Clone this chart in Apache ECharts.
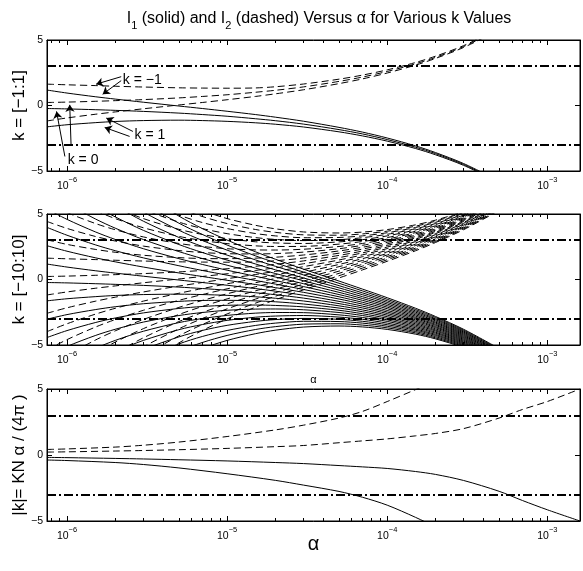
<!DOCTYPE html>
<html>
<head>
<meta charset="utf-8">
<script src="https://cdn.jsdelivr.net/npm/echarts@6/dist/echarts.min.js"></script>
<style>
  html, body { margin: 0; padding: 0; background: #fff; }
  #chart { width: 583px; height: 571px; }
</style>
</head>
<body>
<div id="chart"></div>
<script>
// alpha samples used for the fixed-k curves (panels 1 and 2)
const alphaGrid = [7.5e-7, 1e-6, 1.5e-6, 2e-6, 3e-6, 5e-6, 7e-6, 1e-5, 1.5e-5, 2e-5, 3e-5, 5e-5, 7e-5, 1e-4, 1.5e-4, 2e-4, 3e-4, 5e-4];
const kValues = [-10, -9, -8, -7, -6, -5, -4, -3, -2, -1, 0, 1, 2, 3, 4, 5, 6, 7, 8, 9, 10];

// I1 (solid), one row per k
const i1Rows = [
  [13.78, 11.86, 9.58, 8.20, 6.55, 4.84, 3.89, 3.01, 2.12, 1.55, 0.79, -0.12, -0.73, -1.39, -2.19, -2.82, -3.80, -5.27],
  [12.38, 10.65, 8.59, 7.35, 5.85, 4.30, 3.44, 2.63, 1.81, 1.28, 0.57, -0.29, -0.87, -1.51, -2.29, -2.90, -3.87, -5.32],
  [10.98, 9.44, 7.60, 6.49, 5.15, 3.76, 2.98, 2.24, 1.50, 1.01, 0.35, -0.47, -1.02, -1.63, -2.39, -2.99, -3.94, -5.38],
  [9.58, 8.22, 6.61, 5.63, 4.45, 3.21, 2.52, 1.86, 1.19, 0.74, 0.12, -0.64, -1.16, -1.75, -2.49, -3.07, -4.01, -5.43],
  [8.18, 7.01, 5.62, 4.78, 3.75, 2.67, 2.06, 1.48, 0.87, 0.46, -0.10, -0.81, -1.31, -1.87, -2.59, -3.16, -4.08, -5.48],
  [6.78, 5.80, 4.63, 3.92, 3.05, 2.13, 1.60, 1.09, 0.56, 0.19, -0.32, -0.98, -1.45, -1.99, -2.69, -3.25, -4.15, -5.54],
  [5.38, 4.59, 3.64, 3.06, 2.35, 1.59, 1.15, 0.71, 0.25, -0.08, -0.54, -1.15, -1.59, -2.11, -2.79, -3.33, -4.22, -5.59],
  [3.98, 3.38, 2.65, 2.20, 1.65, 1.05, 0.69, 0.33, -0.07, -0.35, -0.76, -1.32, -1.74, -2.23, -2.89, -3.42, -4.29, -5.65],
  [2.58, 2.16, 1.66, 1.35, 0.95, 0.50, 0.23, -0.06, -0.38, -0.62, -0.98, -1.49, -1.88, -2.36, -2.98, -3.50, -4.36, -5.70],
  [1.18, 0.95, 0.67, 0.49, 0.25, -0.04, -0.23, -0.44, -0.69, -0.89, -1.20, -1.67, -2.03, -2.48, -3.08, -3.59, -4.43, -5.76],
  [-0.23, -0.26, -0.32, -0.37, -0.45, -0.58, -0.69, -0.82, -1.01, -1.16, -1.42, -1.84, -2.17, -2.60, -3.18, -3.67, -4.50, -5.81],
  [-1.63, -1.47, -1.31, -1.22, -1.15, -1.12, -1.15, -1.21, -1.32, -1.43, -1.64, -2.01, -2.32, -2.72, -3.28, -3.76, -4.57, -5.86],
  [-3.03, -2.68, -2.30, -2.08, -1.85, -1.67, -1.60, -1.59, -1.63, -1.70, -1.87, -2.18, -2.46, -2.84, -3.38, -3.85, -4.64, -5.92],
  [-4.43, -3.90, -3.29, -2.94, -2.55, -2.21, -2.06, -1.97, -1.95, -1.98, -2.09, -2.35, -2.61, -2.96, -3.48, -3.93, -4.71, -5.97],
  [-5.83, -5.11, -4.28, -3.80, -3.25, -2.75, -2.52, -2.35, -2.26, -2.25, -2.31, -2.52, -2.75, -3.08, -3.58, -4.02, -4.78, -6.03],
  [-7.23, -6.32, -5.27, -4.65, -3.95, -3.29, -2.98, -2.74, -2.57, -2.52, -2.53, -2.70, -2.90, -3.20, -3.68, -4.10, -4.85, -6.08],
  [-8.63, -7.53, -6.26, -5.51, -4.65, -3.83, -3.44, -3.12, -2.88, -2.79, -2.75, -2.87, -3.04, -3.33, -3.78, -4.19, -4.92, -6.13],
  [-10.03, -8.74, -7.25, -6.37, -5.35, -4.38, -3.89, -3.50, -3.20, -3.06, -2.97, -3.04, -3.19, -3.45, -3.87, -4.27, -4.99, -6.19],
  [-11.43, -9.96, -8.24, -7.22, -6.05, -4.92, -4.35, -3.89, -3.51, -3.33, -3.19, -3.21, -3.33, -3.57, -3.97, -4.36, -5.06, -6.24],
  [-12.83, -11.17, -9.23, -8.08, -6.75, -5.46, -4.81, -4.27, -3.82, -3.60, -3.41, -3.38, -3.48, -3.69, -4.07, -4.45, -5.13, -6.30],
  [-14.23, -12.38, -10.22, -8.94, -7.45, -6.00, -5.27, -4.65, -4.14, -3.87, -3.63, -3.55, -3.62, -3.81, -4.17, -4.53, -5.20, -6.35]
];

// I2 (dashed), one row per k
const i2Rows = [
  [14.23, 12.38, 10.22, 8.94, 7.45, 6.00, 5.27, 4.65, 4.14, 3.87, 3.63, 3.55, 3.62, 3.81, 4.17, 4.53, 5.20, 6.35],
  [12.83, 11.17, 9.23, 8.08, 6.75, 5.46, 4.81, 4.27, 3.82, 3.60, 3.41, 3.38, 3.48, 3.69, 4.07, 4.45, 5.13, 6.30],
  [11.43, 9.96, 8.24, 7.22, 6.05, 4.92, 4.35, 3.89, 3.51, 3.33, 3.19, 3.21, 3.33, 3.57, 3.97, 4.36, 5.06, 6.24],
  [10.03, 8.74, 7.25, 6.37, 5.35, 4.38, 3.89, 3.50, 3.20, 3.06, 2.97, 3.04, 3.19, 3.45, 3.87, 4.27, 4.99, 6.19],
  [8.63, 7.53, 6.26, 5.51, 4.65, 3.83, 3.44, 3.12, 2.88, 2.79, 2.75, 2.87, 3.04, 3.33, 3.78, 4.19, 4.92, 6.13],
  [7.23, 6.32, 5.27, 4.65, 3.95, 3.29, 2.98, 2.74, 2.57, 2.52, 2.53, 2.70, 2.90, 3.20, 3.68, 4.10, 4.85, 6.08],
  [5.83, 5.11, 4.28, 3.80, 3.25, 2.75, 2.52, 2.35, 2.26, 2.25, 2.31, 2.52, 2.75, 3.08, 3.58, 4.02, 4.78, 6.03],
  [4.43, 3.90, 3.29, 2.94, 2.55, 2.21, 2.06, 1.97, 1.95, 1.98, 2.09, 2.35, 2.61, 2.96, 3.48, 3.93, 4.71, 5.97],
  [3.03, 2.68, 2.30, 2.08, 1.85, 1.67, 1.60, 1.59, 1.63, 1.70, 1.87, 2.18, 2.46, 2.84, 3.38, 3.85, 4.64, 5.92],
  [1.63, 1.58, 1.52, 1.47, 1.41, 1.35, 1.33, 1.32, 1.34, 1.43, 1.64, 2.01, 2.32, 2.72, 3.28, 3.76, 4.57, 5.86],
  [0.23, 0.26, 0.32, 0.37, 0.45, 0.58, 0.69, 0.82, 1.01, 1.16, 1.42, 1.84, 2.17, 2.60, 3.18, 3.67, 4.50, 5.81],
  [-1.18, -0.95, -0.67, -0.49, -0.25, 0.04, 0.23, 0.44, 0.69, 0.89, 1.20, 1.67, 2.03, 2.48, 3.08, 3.59, 4.43, 5.76],
  [-2.58, -2.16, -1.66, -1.35, -0.95, -0.50, -0.23, 0.06, 0.38, 0.62, 0.98, 1.49, 1.88, 2.36, 2.98, 3.50, 4.36, 5.70],
  [-3.98, -3.38, -2.65, -2.20, -1.65, -1.05, -0.69, -0.33, 0.07, 0.35, 0.76, 1.32, 1.74, 2.23, 2.89, 3.42, 4.29, 5.65],
  [-5.38, -4.59, -3.64, -3.06, -2.35, -1.59, -1.15, -0.71, -0.25, 0.08, 0.54, 1.15, 1.59, 2.11, 2.79, 3.33, 4.22, 5.59],
  [-6.78, -5.80, -4.63, -3.92, -3.05, -2.13, -1.60, -1.09, -0.56, -0.19, 0.32, 0.98, 1.45, 1.99, 2.69, 3.25, 4.15, 5.54],
  [-8.18, -7.01, -5.62, -4.78, -3.75, -2.67, -2.06, -1.48, -0.87, -0.46, 0.10, 0.81, 1.31, 1.87, 2.59, 3.16, 4.08, 5.48],
  [-9.58, -8.22, -6.61, -5.63, -4.45, -3.21, -2.52, -1.86, -1.19, -0.74, -0.12, 0.64, 1.16, 1.75, 2.49, 3.07, 4.01, 5.43],
  [-10.98, -9.44, -7.60, -6.49, -5.15, -3.76, -2.98, -2.24, -1.50, -1.01, -0.35, 0.47, 1.02, 1.63, 2.39, 2.99, 3.94, 5.38],
  [-12.38, -10.65, -8.59, -7.35, -5.85, -4.30, -3.44, -2.63, -1.81, -1.28, -0.57, 0.29, 0.87, 1.51, 2.29, 2.90, 3.87, 5.32],
  [-13.78, -11.86, -9.58, -8.20, -6.55, -4.84, -3.89, -3.01, -2.12, -1.55, -0.79, 0.12, 0.73, 1.39, 2.19, 2.82, 3.80, 5.27]
];

// panel 3: |k| = KN alpha / (4 pi), two KN values
const alphaGrid3 = [7.5e-7, 1e-6, 2e-6, 3e-6, 5e-6, 1e-5, 2e-5, 3e-5, 5e-5, 7e-5, 1e-4, 1.5e-4, 2e-4, 3e-4, 5e-4, 7e-4, 1e-3, 1.6e-3];
const i1Slow = [-0.18, -0.2, -0.26, -0.3, -0.36, -0.45, -0.57, -0.65, -0.8, -0.9, -1.02, -1.25, -1.47, -1.93, -2.75, -3.45, -4.15, -5.0];
const i2Slow = [0.22, 0.24, 0.3, 0.34, 0.4, 0.5, 0.63, 0.72, 0.93, 1.07, 1.22, 1.45, 1.63, 2.0, 2.8, 3.45, 4.05, 5.0];
const i1Fast = [-0.38, -0.42, -0.57, -0.72, -0.98, -1.42, -1.92, -2.28, -2.76, -3.2, -3.8, -4.72, -5.45, -6.6];
const i2Fast = [0.42, 0.46, 0.6, 0.74, 0.98, 1.4, 1.9, 2.26, 2.8, 3.3, 4.05, 4.95, 5.6, 6.7];

const limitLevels = [3, -3];
const majorTicks = [1e-6, 1e-5, 1e-4, 1e-3];
const minorTicks = [8e-7, 9e-7,
  2e-6, 3e-6, 4e-6, 5e-6, 6e-6, 7e-6, 8e-6, 9e-6,
  2e-5, 3e-5, 4e-5, 5e-5, 6e-5, 7e-5, 8e-5, 9e-5,
  2e-4, 3e-4, 4e-4, 5e-4, 6e-4, 7e-4, 8e-4, 9e-4];

// annotations on the top panel: [alpha, value]
const labelK = [
  { name: 'k = −1', at: [2.23e-6, 1.95] },
  { name: 'k = 1', at: [2.64e-6, -2.24] },
  { name: 'k = 0', at: [1.01e-6, -4.14] }
];
const arrowK = [
  [[2.18e-6, 2.2], [1.52e-6, 1.63]],
  [[2.18e-6, 1.9], [1.67e-6, 0.86]],
  [[2.58e-6, -1.98], [1.76e-6, -0.96]],
  [[2.46e-6, -2.36], [1.72e-6, -1.68]],
  [[9.7e-7, -3.89], [8.6e-7, -0.45]],
  [[1.06e-6, -3.0], [1.04e-6, 0.05]]
];

const X_MIN = 7.5e-7, X_MAX = 1.6e-3;
const FONT = 'Liberation Sans, Arial, Helvetica, sans-serif';
const BLACK = '#000';

function tickLabel(v) {
  var e = Math.round(Math.log10(v));
  return '{b|10}{s|' + (e < 0 ? '−' : '') + Math.abs(e) + '}';
}

var grids = [
  { left: 47, right: 3, top: 40, height: 131 },
  { left: 47, right: 3, top: 214, height: 131 },
  { left: 47, right: 3, top: 389, height: 132 }
].map(function (g) {
  return Object.assign({ show: true, borderColor: BLACK, borderWidth: 1, outerBoundsMode: 'none' }, g);
});

var xAxes = [];
var yAxes = [];
var yNames = ['k = [−1:1]', 'k = [−10:10]', '|k|= KN α / (4π )'];
var xNames = [
  null,
  { text: 'α', size: 11, gap: 29 },
  { text: 'α', size: 20, gap: 13 }
];

grids.forEach(function (g, gi) {
  var nm = xNames[gi];
  // bottom, major ticks with labels
  xAxes.push({
    type: 'log', gridIndex: gi, min: X_MIN, max: X_MAX, position: 'bottom',
    axisLine: { show: true, onZero: false, lineStyle: { color: BLACK, width: 1 } },
    axisTick: { show: true, inside: true, length: 5, customValues: majorTicks, lineStyle: { color: BLACK } },
    axisLabel: {
      show: true, customValues: majorTicks, formatter: tickLabel, margin: 5,
      rich: {
        b: { fontSize: 10.5, lineHeight: 16, verticalAlign: 'bottom', fontFamily: FONT, color: BLACK },
        s: { fontSize: 7.5, lineHeight: 4, verticalAlign: 'top', fontFamily: FONT, color: BLACK }
      }
    },
    splitLine: { show: false },
    name: nm ? nm.text : '',
    nameLocation: 'middle',
    nameGap: nm ? nm.gap : 0,
    nameMoveOverlap: false,
    nameTextStyle: { fontSize: nm ? nm.size : 10, fontFamily: FONT, color: BLACK }
  });
  // bottom, minor ticks
  xAxes.push({
    type: 'log', gridIndex: gi, min: X_MIN, max: X_MAX, position: 'bottom',
    axisLine: { show: false, onZero: false },
    axisTick: { show: true, inside: true, length: 3, customValues: minorTicks, lineStyle: { color: BLACK } },
    axisLabel: { show: false },
    splitLine: { show: false }
  });
  // top, major ticks
  xAxes.push({
    type: 'log', gridIndex: gi, min: X_MIN, max: X_MAX, position: 'top',
    axisLine: { show: true, onZero: false, lineStyle: { color: BLACK, width: 1 } },
    axisTick: { show: true, inside: true, length: 5, customValues: majorTicks, lineStyle: { color: BLACK } },
    axisLabel: { show: false },
    splitLine: { show: false }
  });
  // top, minor ticks
  xAxes.push({
    type: 'log', gridIndex: gi, min: X_MIN, max: X_MAX, position: 'top',
    axisLine: { show: false, onZero: false },
    axisTick: { show: true, inside: true, length: 3, customValues: minorTicks, lineStyle: { color: BLACK } },
    axisLabel: { show: false },
    splitLine: { show: false }
  });

  yAxes.push({
    type: 'value', gridIndex: gi, min: -5, max: 5, interval: 5, position: 'left',
    axisLine: { show: true, onZero: false, lineStyle: { color: BLACK } },
    axisTick: { show: true, inside: true, length: 5, lineStyle: { color: BLACK } },
    axisLabel: {
      fontSize: 10.5, fontFamily: FONT, color: BLACK, margin: 4,
      formatter: function (v) { return String(v).replace('-', '−'); }
    },
    splitLine: { show: false },
    name: yNames[gi], nameLocation: 'middle', nameGap: 19, nameMoveOverlap: false,
    nameTextStyle: { fontSize: 17, fontFamily: FONT, color: BLACK }
  });
  yAxes.push({
    type: 'value', gridIndex: gi, min: -5, max: 5, interval: 5, position: 'right',
    axisLine: { show: true, onZero: false, lineStyle: { color: BLACK } },
    axisTick: { show: true, inside: true, length: 5, lineStyle: { color: BLACK } },
    axisLabel: { show: false },
    splitLine: { show: false }
  });
});

function curve(gi, xs, ys, dashed) {
  return {
    type: 'line', xAxisIndex: gi * 4, yAxisIndex: gi * 2,
    data: ys.map(function (y, i) { return [xs[i], y]; }),
    showSymbol: false, symbol: 'none', smooth: 0.3, silent: true, clip: true,
    lineStyle: { color: BLACK, width: 1, type: dashed ? [7, 4] : 'solid' }
  };
}

var limitMark = {
  symbol: 'none', silent: true, label: { show: false },
  lineStyle: { color: BLACK, width: 2, type: [9, 3, 2, 3] },
  data: limitLevels.map(function (v) { return { yAxis: v }; })
};

var series = [];

// panel 1: k = -1, 0, 1
[-1, 0, 1].forEach(function (k) {
  var j = kValues.indexOf(k);
  series.push(curve(0, alphaGrid, i1Rows[j], false));
  series.push(curve(0, alphaGrid, i2Rows[j], true));
});
series[0].markLine = limitMark;
series[1].markLine = {
  symbol: ['none', 'arrow'], symbolSize: 7, silent: true, label: { show: false },
  lineStyle: { color: BLACK, width: 1, type: 'solid' },
  data: arrowK.map(function (p) { return [{ coord: p[0] }, { coord: p[1] }]; })
};
series[2].markPoint = {
  symbol: 'rect', symbolSize: 0, silent: true,
  label: { show: true, position: 'right', distance: 0, formatter: '{b}', fontSize: 14, fontFamily: FONT, color: BLACK },
  data: labelK.map(function (l) { return { name: l.name, coord: l.at }; })
};

// panel 2: k = -10 .. 10
kValues.forEach(function (k, j) {
  series.push(curve(1, alphaGrid, i1Rows[j], false));
  series.push(curve(1, alphaGrid, i2Rows[j], true));
});
series[6].markLine = limitMark;

// panel 3
var p3 = [
  curve(2, alphaGrid3, i1Slow, false),
  curve(2, alphaGrid3, i2Slow, true),
  curve(2, alphaGrid3, i1Fast, false),
  curve(2, alphaGrid3, i2Fast, true)
];
p3[0].markLine = limitMark;
series = series.concat(p3);

var chart = echarts.init(document.getElementById('chart'), null, { renderer: 'canvas' });
chart.setOption({
  animation: false,
  backgroundColor: '#fff',
  title: {
    text: '{a|I}{b|1}{a| (solid) and I}{b|2}{a| (dashed) Versus α for Various k Values}',
    left: 314, top: 2, textAlign: 'center',
    textStyle: {
      fontWeight: 'normal',
      rich: {
        a: { fontSize: 16, lineHeight: 24, fontWeight: 'normal', fontFamily: FONT, color: BLACK },
        b: { fontSize: 11, lineHeight: 3, verticalAlign: 'bottom', fontWeight: 'normal', fontFamily: FONT, color: BLACK }
      }
    }
  },
  grid: grids,
  xAxis: xAxes,
  yAxis: yAxes,
  series: series
});
</script>
</body>
</html>
